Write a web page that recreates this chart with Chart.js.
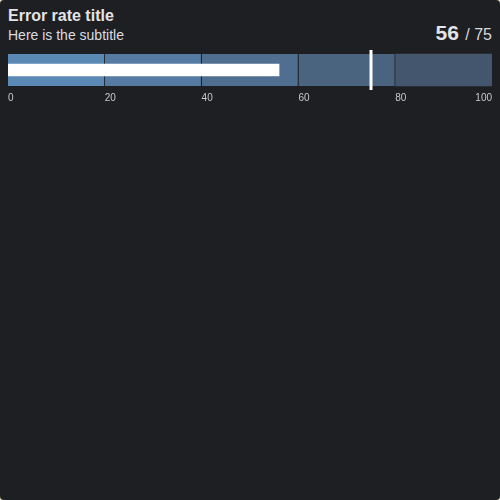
<!DOCTYPE html>
<html>
<head>
<meta charset="utf-8">
<script src="https://cdn.jsdelivr.net/npm/chart.js@4"></script>
<style>
  html, body { margin: 0; padding: 0; background: #e9dcc2; }
  #card { position: relative; width: 500px; height: 500px; background: #1e1f23; border-radius: 4px; overflow: hidden; font-family: "Liberation Sans", Arial, sans-serif; }
  #title { position: absolute; left: 8px; top: 7px; font-size: 16px; font-weight: bold; color: #e4e4e8; line-height: 18px; }
  #subtitle { position: absolute; left: 8px; top: 27px; font-size: 14px; color: #dcdce0; line-height: 16px; }
  #value { position: absolute; right: 8px; top: 21px; color: #e4e4e8; line-height: 24px; }
  #value b { font-size: 21px; }
  #value span { font-size: 16px; color: #d8d8dc; margin-left: 2px; }
  #wrap { position: absolute; left: 0; top: 40px; width: 500px; height: 80px; }
</style>
</head>
<body>
<div id="card">
  <div id="title">Error rate title</div>
  <div id="subtitle">Here is the subtitle</div>
  <div id="value"><b id="valNum"></b><span id="valTarget"></span></div>
  <div id="wrap"><canvas id="c"></canvas></div>
</div>
<script>
const categories = ['Error rate'];
const rangeBands = [[0, 20], [20, 40], [40, 60], [60, 80], [80, 100]];
const bandColors = ['#5a89b6', '#557ba3', '#506e90', '#4a637e', '#44566d'];
const actualValue = [56];
const targetValue = [75];
const tickLabels = [0, 20, 40, 60, 80, 100];

document.getElementById('valNum').textContent = actualValue[0];
document.getElementById('valTarget').textContent = ' / ' + targetValue[0];

const datasets = rangeBands.map((b, i) => ({
  type: 'bar',
  data: [b],
  backgroundColor: bandColors[i],
  borderColor: '#1e1f23',
  borderWidth: i < rangeBands.length - 1 ? {top: 0, bottom: 0, left: 0, right: 1} : 0,
  borderSkipped: false,
  barThickness: 32,
  grouped: false,
  order: 3
}));
datasets.push({
  type: 'bar',
  data: [[0, actualValue[0]]],
  backgroundColor: '#ffffff',
  borderWidth: 0,
  barThickness: 12,
  grouped: false,
  order: 1
});
datasets.push({
  type: 'line',
  data: [{x: targetValue[0], y: categories[0]}],
  showLine: false,
  pointStyle: 'line',
  rotation: 90,
  pointRadius: 20,
  pointHoverRadius: 20,
  borderColor: '#ffffff',
  backgroundColor: '#ffffff',
  borderWidth: 3,
  pointBorderWidth: 3,
  clip: false,
  order: 0
});

const tickPlugin = {
  id: 'tickLabels',
  afterDraw(chart) {
    const ctx = chart.ctx;
    const xs = chart.scales.x;
    ctx.save();
    ctx.font = '10px "Liberation Sans", Arial, sans-serif';
    ctx.fillStyle = '#c9c9cd';
    ctx.textBaseline = 'middle';
    tickLabels.forEach((t, i) => {
      ctx.textAlign = i === tickLabels.length - 1 ? 'right' : 'left';
      ctx.fillText(String(t), xs.getPixelForValue(t), chart.chartArea.bottom + 8.5);
    });
    ctx.restore();
  }
};

new Chart(document.getElementById('c'), {
  data: { labels: categories, datasets },
  options: {
    indexAxis: 'y',
    responsive: true,
    maintainAspectRatio: false,
    animation: false,
    layout: { autoPadding: false, padding: { left: 8, right: 8, top: 10, bottom: 30 } },
    plugins: { legend: { display: false }, tooltip: { enabled: false } },
    scales: {
      x: { type: 'linear', min: tickLabels[0], max: tickLabels[tickLabels.length - 1], display: false },
      y: { type: 'category', display: false }
    }
  },
  plugins: [tickPlugin]
});
</script>
</body>
</html>
